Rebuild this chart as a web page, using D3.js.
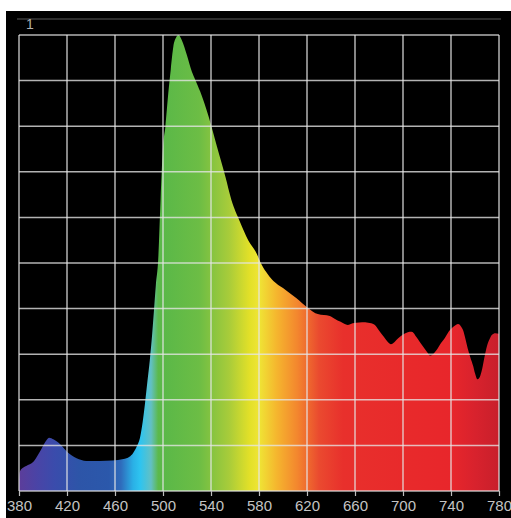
<!DOCTYPE html>
<html lang="en">
<head>
<meta charset="UTF-8">
<title>Spectrum</title>
<script src="https://d3js.org/d3.v7.min.js"></script>
<style>
  body { margin: 0; background: #fff; }
  svg { display: block; }
</style>
</head>
<body>
<div id="chart"></div>
<script>
// wavelength (nm) and relative intensity
var wavelengths = [380, 380.5, 382, 386, 392, 396, 399, 402, 405, 409, 413, 417, 420, 424, 428, 432, 436, 447, 458, 467, 472, 475, 478, 481, 483, 485, 487, 489, 491, 492.5, 494, 496, 498, 500, 502, 504.4, 506.5, 508.6, 511, 513, 515.6, 520, 524, 527, 531, 538, 545, 552, 557, 564, 571, 578, 581, 586, 591, 596, 600, 606, 611, 616, 621, 629, 639, 643, 648, 654, 658, 661, 666, 671, 676, 680, 684, 687, 690, 693, 696, 700, 704, 707, 709, 711, 714, 717, 720, 722.5, 725, 728, 731, 735, 738, 741, 744, 746, 748, 750, 752, 754, 756, 758.6, 760, 762, 764, 766, 768, 770, 772, 774, 777, 780];
var intensity = [0.024, 0.04, 0.048, 0.055, 0.064, 0.08, 0.094, 0.108, 0.117, 0.113, 0.106, 0.095, 0.086, 0.078, 0.072, 0.068, 0.066, 0.066, 0.067, 0.07, 0.075, 0.083, 0.097, 0.119, 0.15, 0.192, 0.24, 0.287, 0.345, 0.397, 0.45, 0.507, 0.64, 0.755, 0.799, 0.872, 0.925, 0.974, 0.995, 1.0, 0.989, 0.955, 0.92, 0.901, 0.876, 0.821, 0.755, 0.689, 0.638, 0.591, 0.55, 0.521, 0.503, 0.48, 0.463, 0.452, 0.445, 0.433, 0.423, 0.412, 0.401, 0.388, 0.384, 0.378, 0.371, 0.364, 0.368, 0.369, 0.37, 0.369, 0.365, 0.352, 0.338, 0.328, 0.322, 0.327, 0.335, 0.343, 0.348, 0.349, 0.346, 0.338, 0.327, 0.316, 0.305, 0.297, 0.3, 0.309, 0.322, 0.336, 0.349, 0.358, 0.364, 0.366, 0.362, 0.353, 0.334, 0.312, 0.294, 0.273, 0.258, 0.245, 0.25, 0.268, 0.295, 0.318, 0.332, 0.342, 0.346, 0.345];

// colour of the fill along the x axis
var stopNm = [380, 395, 410, 430, 455, 465, 475, 481, 490, 496, 500, 530, 555, 572, 580, 595, 612, 630, 650, 700, 740, 760, 780];
var stopColor = ["#5c3d9a", "#4a44a6", "#3a4cac", "#2d55a8", "#2b58ab", "#2f6cbc", "#2ab0e6", "#2ec4f0", "#62c0c4", "#5cb94c", "#5ab848", "#6cbd45", "#a8cc3a", "#e2e028", "#efe535", "#f5b52e", "#f3862e", "#ea4a2f", "#e8302c", "#e82a2b", "#e8262b", "#d8222d", "#c81f2b"];

var xTicks = [380, 420, 460, 500, 540, 580, 620, 660, 700, 740, 780];
var yTicks = [0, 0.1, 0.2, 0.3, 0.4, 0.5, 0.6, 0.7, 0.8, 0.9, 1];

var width = 511, height = 518;
var data = wavelengths.map(function(w, i) { return { nm: w, v: intensity[i] }; });

var svg = d3.select("#chart").append("svg")
  .attr("width", width)
  .attr("height", height);

svg.append("rect")
  .attr("x", 6).attr("y", 11)
  .attr("width", width - 6).attr("height", height - 11)
  .attr("fill", "#000");

var x = d3.scaleLinear().domain([380, 780]).range([19, 499]);
var y = d3.scaleLinear().domain([0, 1]).range([491, 35]);

// gradient
var grad = svg.append("defs").append("linearGradient")
  .attr("id", "spec")
  .attr("gradientUnits", "userSpaceOnUse")
  .attr("x1", x(380)).attr("x2", x(780))
  .attr("y1", 0).attr("y2", 0);
grad.selectAll("stop")
  .data(stopNm)
  .enter().append("stop")
  .attr("offset", function(d) { return (d - 380) / 400; })
  .attr("stop-color", function(d, i) { return stopColor[i]; });

// top bar and "1" label
svg.append("line")
  .attr("x1", 17).attr("x2", 501)
  .attr("y1", 19).attr("y2", 19)
  .attr("stroke", "#2c2c2c")
  .attr("stroke-width", 2);
svg.append("text")
  .attr("x", 30).attr("y", 29)
  .attr("fill", "#b0b0b0")
  .attr("text-anchor", "middle")
  .style("font-family", "Liberation Sans Narrow, Liberation Sans, sans-serif")
  .style("font-size", "14px")
  .text("1");

// spectrum
var area = d3.area()
  .x(function(d) { return x(d.nm); })
  .y0(y(0))
  .y1(function(d) { return y(d.v); })
  .curve(d3.curveMonotoneX);

svg.append("path")
  .datum(data)
  .attr("d", area)
  .attr("fill", "url(#spec)");

// grid on top
var grid = svg.append("g")
  .attr("stroke", "#e6e6e6")
  .attr("stroke-opacity", 0.78)
  .attr("stroke-width", 1.5);
grid.selectAll(".v")
  .data(xTicks)
  .enter().append("line")
  .attr("x1", function(d) { return x(d); })
  .attr("x2", function(d) { return x(d); })
  .attr("y1", y(1)).attr("y2", y(0));
grid.selectAll(".h")
  .data(yTicks)
  .enter().append("line")
  .attr("x1", x(380)).attr("x2", x(780))
  .attr("y1", function(d) { return y(d); })
  .attr("y2", function(d) { return y(d); });

// x axis
var axis = svg.append("g")
  .attr("transform", "translate(0," + y(0) + ")")
  .call(d3.axisBottom(x).tickValues(xTicks).tickSize(5).tickPadding(4).tickFormat(d3.format("d")));
axis.select(".domain").remove();
axis.selectAll("line").attr("stroke", "#bdbdbd").attr("stroke-width", 1.2);
axis.selectAll("text")
  .attr("fill", "#c4c4c4")
  .style("font-family", "Liberation Sans Narrow, Liberation Sans, sans-serif")
  .style("font-size", "15px");
</script>
</body>
</html>
